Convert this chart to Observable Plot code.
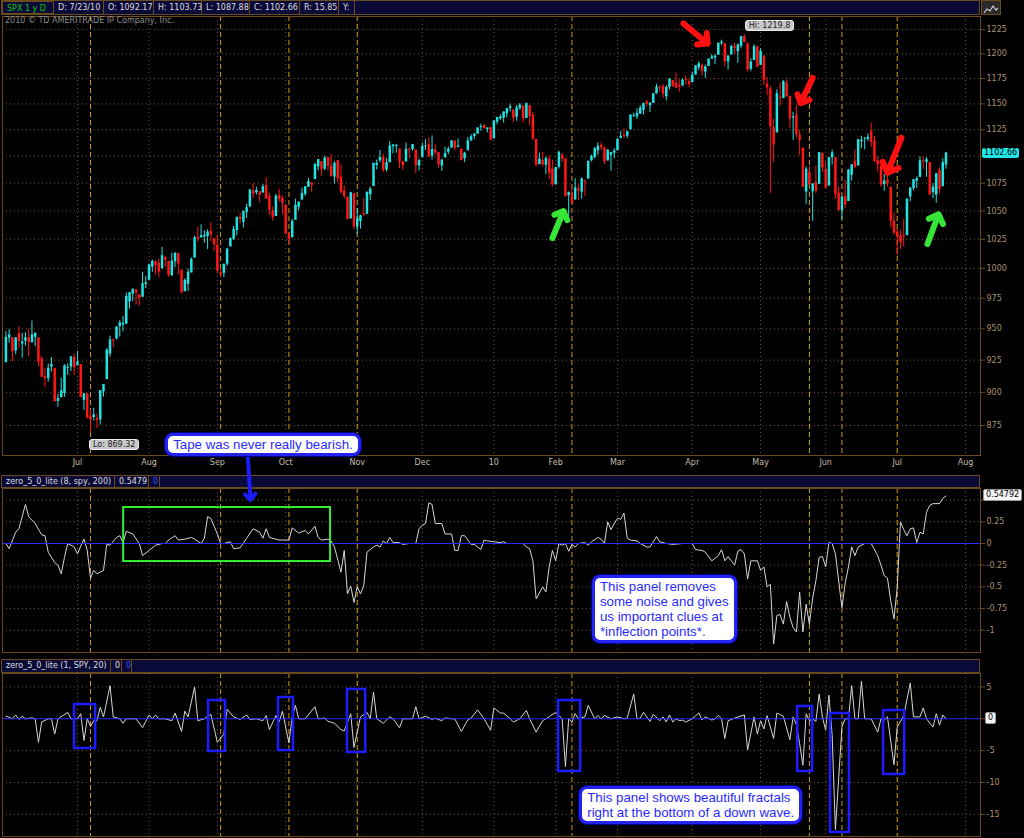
<!DOCTYPE html>
<html><head><meta charset="utf-8">
<script src="https://cdn.jsdelivr.net/npm/d3@7"></script>
<script src="https://cdn.jsdelivr.net/npm/@observablehq/plot@0.6"></script>
<style>
html,body{margin:0;padding:0;background:#000;}
#root{position:relative;width:1024px;height:838px;overflow:hidden;background:#000;font-family:"DejaVu Sans",sans-serif;}
.bar{position:absolute;left:1px;width:977px;background:#0a0a38;border:1px solid #6b4a1c;display:flex;font-size:8px;color:#dedede;white-space:nowrap;overflow:hidden}
.cell{box-sizing:border-box;padding-left:4px;border-right:1px solid #6b4a1c;}
.callout{position:absolute;background:#fff;border:3px solid #2323f2;border-radius:8px;color:#2a2aff;font:13.3px/15px "Liberation Sans",Arial,sans-serif;padding:1px 5px;box-shadow:0 0 0 1px #00008a;white-space:nowrap}
.badge{position:absolute;font-size:8px;line-height:10px;padding:0 2px;border-radius:2px;transform:translateY(-50%);color:#000}
.hl{position:absolute;background:#c8c8c8;color:#1c1c1c;font-size:8px;line-height:9px;padding:0 3px;border-radius:3px;border:1px solid #eee}
</style></head>
<body><div id="root"></div>
<script>
// ---------------- DATA ----------------
const holidays = ["2009-07-03","2009-09-07","2009-11-26","2009-12-25","2010-01-01","2010-01-18","2010-02-15","2010-04-02","2010-05-31","2010-07-05"];
const firstDay = "2009-06-01", calendarEnd = "2010-08-07";

const open = [
923.26,942.87,942.51,932.49,945.67,938.12,940.35,942.73,939.04,943.44,942.45,925.60,911.89,910.86,919.96,918.13,893.46,896.31,899.45,918.84,919.86,927.15,
920.82,921.24,894.27,898.60,881.90,881.28,880.03,879.57,900.77,910.15,930.17,940.56,942.07,951.97,953.40,954.07,972.16,978.63,981.48,977.66,976.01,986.80,
990.22,1001.41,1005.41,1004.06,999.83,1008.89,1005.77,994.00,1005.86,1012.23,998.18,980.62,986.88,996.41,1009.06,1026.59,1026.63,1027.35,1027.81,1031.62,1025.21,
1019.52,996.07,996.12,1003.84,1018.67,1025.36,1032.99,1043.92,1040.15,1049.03,1053.99,1067.87,1066.60,1067.14,1066.35,1072.69,1062.56,1049.48,1045.38,1063.69,1061.02,
1054.91,1029.71,1026.87,1042.02,1053.65,1060.03,1065.28,1071.63,1074.96,1078.68,1090.36,1094.67,1088.22,1098.64,1090.36,1080.96,1095.62,1080.36,1067.54,1061.51,1043.19,1065.41,
1036.18,1040.92,1047.14,1047.30,1064.95,1072.31,1091.86,1096.04,1098.31,1087.59,1094.13,1109.22,1109.44,1106.44,1094.66,1094.86,1105.83,1106.49,1105.47,1091.07,
1098.89,1109.03,1110.59,1100.43,1105.52,1103.04,1091.07,1098.69,1103.96,1107.84,1114.11,1108.61,1106.36,1097.86,1105.31,1114.51,1118.84,1121.08,1127.53,1128.55,1125.53,1126.60,
1116.56,1132.66,1135.71,1136.27,1140.52,1145.96,1143.81,1137.31,1145.68,1147.72,1136.03,1147.95,1138.68,1115.49,1092.40,1095.80,1091.94,1096.93,1087.61,
1073.89,1090.05,1100.67,1097.25,1064.12,1065.51,1060.06,1069.68,1067.10,1075.95,1079.13,1096.14,1099.03,1105.49,1110.00,1107.49,1095.89,1101.24,1103.10,
1105.36,1117.01,1119.36,1119.12,1125.12,1138.40,1137.56,1140.22,1143.96,1151.71,1148.53,1150.83,1159.94,1166.13,1166.68,1157.25,1166.47,1172.70,1170.03,1167.58,1167.71,1173.75,1171.75,
1171.23,1178.71,1186.01,1188.23,1181.75,1187.47,1194.94,1195.94,1198.69,1210.77,1210.17,1192.06,1199.04,1207.16,1202.52,1207.87,1217.07,1209.92,1184.59,1193.30,1206.77,
1188.58,1197.50,1169.24,1164.38,1127.04,1122.27,1156.39,1155.43,1170.04,1157.19,1136.52,1138.78,1119.57,1107.34,1067.26,1084.78,1067.42,1075.51,1074.27,1102.59,
1087.30,1073.01,1098.82,1098.43,1065.84,1050.81,1062.75,1058.77,1082.65,1095.00,1091.21,1114.02,1115.98,1116.16,1122.79,1113.90,1095.57,1090.93,1074.10,1077.50,1071.10,1040.56,
1031.10,1027.65,1028.09,1028.54,1062.92,1070.50,1077.23,1080.65,1095.61,1094.46,1093.85,1066.85,1064.53,1086.67,1072.14,1092.17];

const high = [
947.77,949.38,942.51,942.47,951.69,946.33,946.92,949.77,956.23,946.30,942.45,928.00,918.44,921.93,927.09,918.13,898.69,910.85,921.42,922.00,927.99,930.01,
931.92,921.24,898.72,898.60,886.80,887.86,883.57,901.05,905.84,933.95,943.96,941.89,951.62,956.53,959.83,979.42,979.79,982.49,982.35,977.76,996.68,993.18,
1003.61,1007.12,1006.64,1008.00,1018.00,1010.12,1005.77,1012.78,1013.14,1012.60,998.18,991.20,999.61,1008.92,1027.59,1035.82,1037.75,1032.47,1033.33,1039.47,1025.21,
1028.45,1000.34,1003.43,1016.48,1026.07,1036.34,1044.14,1048.18,1049.74,1056.04,1068.76,1074.77,1071.52,1067.28,1073.81,1080.15,1066.29,1053.47,1065.13,1069.62,1063.40,
1054.91,1030.60,1042.58,1060.55,1058.02,1070.67,1071.51,1079.46,1075.30,1093.17,1096.56,1094.67,1100.17,1098.64,1101.36,1095.21,1095.83,1091.75,1072.48,1063.26,1066.83,1065.41,
1052.18,1046.36,1061.00,1066.65,1071.48,1093.19,1096.42,1105.37,1101.97,1097.79,1113.69,1110.52,1111.10,1106.44,1094.66,1112.38,1107.56,1111.18,1105.47,1097.24,
1112.28,1115.58,1117.28,1119.13,1110.72,1103.04,1097.04,1108.44,1108.50,1114.76,1114.11,1116.21,1106.36,1103.74,1117.68,1120.27,1121.58,1126.48,1130.38,1130.38,1126.42,1127.64,
1133.87,1136.63,1139.19,1142.46,1145.39,1149.74,1143.81,1148.40,1150.41,1147.77,1150.45,1147.95,1141.58,1115.49,1102.97,1103.69,1099.51,1100.22,1096.45,
1089.38,1104.73,1102.72,1097.25,1067.13,1071.20,1079.28,1073.67,1080.04,1077.81,1095.67,1101.03,1108.24,1112.42,1112.29,1108.58,1106.42,1103.50,1107.24,
1116.11,1123.46,1125.64,1123.73,1139.38,1141.05,1145.37,1148.26,1150.24,1153.41,1150.98,1160.28,1169.20,1167.77,1169.20,1167.82,1174.72,1173.04,1180.69,1173.93,1174.85,1177.83,1174.56,
1181.43,1187.73,1191.80,1189.60,1188.55,1194.66,1199.20,1199.04,1210.65,1213.92,1210.17,1197.87,1208.58,1210.99,1210.27,1217.28,1219.80,1211.38,1195.05,1209.36,1207.99,
1205.13,1197.50,1175.95,1167.58,1135.13,1163.85,1170.48,1172.87,1173.57,1157.19,1141.88,1148.66,1124.27,1107.34,1090.16,1089.95,1074.75,1090.75,1103.52,1102.59,
1094.77,1098.56,1105.67,1098.43,1071.36,1063.15,1077.74,1087.85,1092.25,1105.91,1115.59,1118.74,1117.72,1121.01,1131.23,1118.50,1099.64,1090.93,1083.11,1082.60,1071.10,1048.08,
1033.58,1032.95,1042.50,1060.89,1071.25,1078.16,1080.78,1099.46,1099.08,1098.66,1093.85,1074.70,1083.94,1088.96,1097.50,1103.73];

const low = [
923.26,938.46,923.85,929.32,934.13,926.44,936.15,927.97,939.04,935.66,919.65,911.60,903.78,907.94,915.80,893.04,888.86,896.31,896.27,913.03,916.18,912.86,
920.82,896.42,886.36,879.93,869.32,878.45,872.81,875.32,896.50,910.15,927.45,934.65,940.99,943.22,947.75,953.27,965.95,972.29,969.35,968.65,976.01,982.85,
990.22,996.68,994.31,992.49,999.83,1000.99,992.40,993.36,1000.82,994.60,978.51,980.62,980.62,996.39,1009.06,1022.48,1026.21,1021.57,1016.20,1023.13,1014.62,
996.28,991.97,992.25,1001.65,1018.67,1023.97,1028.04,1038.40,1035.00,1043.42,1052.87,1061.20,1064.27,1057.46,1066.35,1060.39,1045.85,1041.17,1045.38,1057.83,1046.47,
1029.45,1019.95,1025.92,1042.02,1050.10,1060.03,1063.00,1071.63,1066.71,1078.68,1086.41,1081.53,1086.48,1086.16,1080.77,1074.31,1075.49,1065.23,1060.62,1042.19,1043.19,1033.38,
1029.38,1033.94,1045.15,1047.30,1059.32,1072.31,1087.40,1093.81,1084.90,1085.33,1094.13,1102.19,1102.70,1088.40,1086.81,1094.86,1097.63,1104.75,1083.74,1086.25,
1098.89,1105.29,1098.74,1096.52,1100.83,1088.61,1085.89,1098.69,1101.34,1107.84,1105.35,1107.96,1095.88,1093.88,1105.31,1114.51,1116.00,1121.08,1123.51,1126.08,1121.94,1114.81,
1116.56,1129.66,1133.95,1131.32,1136.22,1142.02,1131.77,1133.18,1143.80,1131.39,1135.77,1129.25,1114.84,1090.18,1092.40,1089.86,1083.11,1078.46,1071.59,
1073.89,1087.96,1093.97,1062.78,1044.50,1056.51,1060.06,1059.34,1060.59,1062.97,1079.13,1094.72,1097.48,1100.80,1105.38,1092.18,1095.50,1086.02,1097.56,
1105.36,1116.51,1116.58,1116.66,1125.12,1136.77,1134.90,1140.09,1138.99,1146.97,1141.45,1150.35,1159.94,1161.16,1155.33,1152.88,1163.83,1166.01,1165.09,1161.48,1167.71,1168.92,1165.77,
1170.69,1178.71,1182.77,1177.25,1175.12,1187.15,1194.71,1188.82,1198.69,1208.50,1186.77,1183.68,1199.04,1198.85,1190.19,1205.10,1211.07,1181.62,1181.81,1193.30,1186.32,
1188.58,1168.12,1158.15,1065.79,1094.15,1122.27,1147.71,1155.43,1156.14,1126.14,1114.96,1117.20,1100.66,1071.58,1055.90,1072.70,1040.78,1065.59,1074.27,1084.78,
1069.89,1072.03,1091.81,1060.50,1049.86,1042.17,1052.25,1058.77,1077.12,1089.03,1091.21,1107.13,1105.87,1113.93,1108.24,1094.18,1085.31,1071.60,1067.89,1071.45,1035.18,1028.33,
1010.91,1015.93,1018.35,1028.54,1058.24,1068.10,1070.45,1080.65,1087.68,1080.53,1063.32,1061.11,1056.88,1065.25,1072.14,1087.88];

const close = [
942.87,944.74,931.76,942.46,940.09,939.14,942.43,939.15,944.89,946.21,923.72,911.97,910.71,918.37,921.23,893.04,895.10,900.94,920.26,918.90,927.23,919.32,
923.33,896.42,898.72,881.03,879.56,882.68,879.13,901.05,905.84,932.68,940.74,940.38,951.13,954.58,954.07,976.29,979.26,982.18,979.62,975.15,986.75,987.48,
1002.63,1005.65,1002.72,997.08,1010.48,1007.10,994.35,1005.81,1012.73,1004.09,979.73,989.67,996.46,1007.37,1026.13,1025.57,1028.00,1028.12,1030.98,1028.93,1020.62,
998.04,994.75,1003.24,1016.40,1025.39,1033.37,1044.14,1042.73,1049.34,1052.63,1068.76,1065.49,1068.30,1064.66,1071.66,1060.87,1050.78,1044.38,1062.98,1060.61,1057.08,
1029.85,1025.21,1040.46,1054.72,1057.58,1065.48,1071.49,1076.19,1073.19,1092.02,1096.56,1087.68,1097.91,1091.06,1081.40,1092.91,1079.60,1066.95,1063.41,1042.63,1066.11,1036.19,
1042.88,1045.41,1046.50,1066.63,1069.30,1093.08,1093.01,1098.51,1087.24,1093.48,1109.30,1110.32,1109.80,1094.90,1091.38,1106.24,1105.65,1110.63,1091.49,1095.63,
1108.86,1109.24,1099.92,1105.98,1103.25,1091.94,1095.95,1102.35,1106.41,1114.11,1107.93,1109.18,1096.08,1102.47,1114.05,1118.02,1120.59,1126.48,1127.78,1126.20,1126.42,1115.10,
1132.99,1136.52,1137.14,1141.69,1144.98,1146.98,1136.22,1145.68,1148.46,1136.03,1150.23,1138.04,1116.48,1091.76,1096.78,1092.17,1097.50,1084.53,1073.87,
1089.19,1103.32,1097.28,1063.11,1066.19,1056.74,1070.52,1068.13,1078.47,1075.51,1094.87,1099.51,1106.75,1109.17,1108.01,1094.60,1105.24,1102.94,1104.49,
1115.71,1118.31,1118.79,1122.97,1138.70,1138.50,1140.45,1145.61,1150.24,1149.99,1150.51,1159.46,1166.21,1165.83,1159.90,1165.81,1174.17,1167.72,1165.73,1166.59,1173.22,1173.27,1169.43,
1178.10,1187.44,1189.44,1182.45,1186.44,1194.37,1196.48,1197.30,1210.65,1211.67,1192.13,1197.52,1207.17,1205.94,1208.67,1217.28,1212.05,1183.71,1191.36,1206.78,1186.69,
1202.26,1173.60,1165.90,1128.15,1110.88,1159.73,1155.79,1171.67,1157.44,1135.68,1136.94,1120.80,1115.05,1071.59,1087.69,1073.65,1074.03,1067.95,1103.06,1089.41,
1070.71,1098.38,1102.83,1064.88,1050.47,1062.00,1055.69,1086.84,1091.60,1089.63,1115.23,1114.61,1116.04,1117.51,1113.20,1095.31,1092.04,1073.69,1076.76,1074.57,1041.24,1030.71,
1027.37,1022.58,1028.06,1060.27,1070.25,1077.96,1078.75,1095.34,1095.17,1096.48,1064.88,1071.25,1083.48,1069.59,1093.67,1102.66];

const priceTicks = [875,900,925,950,975,1000,1025,1050,1075,1100,1125,1150,1175,1200,1225];

// dates marked with orange dashed verticals
const markerDates = ["2009-07-08","2009-09-02","2009-10-02","2009-11-02","2010-02-08","2010-05-24","2010-06-08","2010-07-01"];

// zero_5_0_lite (8, spy, 200): trading-day index / value
const ind8Day = [0,1,3,4,6,7,9,11,12,13,15,16,17,18,19,21,22,23,24,25,26,27,28,30,31,32,34,35,36,37,39,41,42,44,46,48,49,50,52,53,55,57,58,60,61,62,63,65,66,67,69,70,72,74,76,78,79,80,81,84,86,87,88,90,92,93,95,96,97,99,100,101,103,104,105,106,107,108,109,110,111,113,114,115,116,117,118,119,121,122,124,126,127,128,129,130,131,132,134,135,137,138,139,140,141,143,144,146,147,148,150,152,153,154,159,160,161,162,163,165,166,167,168,169,170,171,172,173,174,175,176,178,179,180,182,183,184,185,186,187,188,189,190,191,192,194,195,197,198,200,201,203,205,208,211,212,214,215,217,219,220,221,222,224,225,226,227,228,229,231,232,233,234,235,236,237,238,239,240,241,242,243,244,245,246,247,248,249,250,251,252,253,254,255,257,258,259,260,261,262,264,266,268,269,270,271,272,273,274,275,276,277,278,279,280,281,282,283,284,285,287,288,289];
const ind8Val = [0,-0.06,0.13,0.17,0.45,0.31,0.23,0.10,0.09,-0.10,-0.22,-0.25,-0.35,-0.16,0,-0.04,-0.12,-0.03,0.05,-0.08,-0.40,-0.31,-0.35,-0.31,-0.01,-0.02,0.07,0.09,0.01,0.14,0.11,0,-0.14,-0.08,-0.02,0,0,0.04,0.09,0.04,0.05,0.07,0.05,0,0.06,0.31,0.29,0.11,0,0,0.02,-0.06,-0.05,0.06,0.17,0.13,0.06,0.17,0.07,0.04,0.04,0.04,0.18,0.12,0.15,0.11,0.20,0.07,0.04,0.05,0.03,-0.04,-0.33,-0.08,-0.58,-0.49,-0.68,-0.50,-0.58,-0.49,-0.10,-0.04,-0.02,-0.04,0.03,0,0.07,0.01,0.01,-0.01,0,0,0.17,0.21,0.23,0.47,0.45,0.23,0.23,0.11,0.11,-0.08,-0.08,0.09,0.09,-0.01,-0.01,-0.07,0.04,0.03,0.02,0.01,0.02,0,0,-0.04,-0.06,-0.20,-0.64,-0.50,-0.56,-0.27,-0.08,-0.20,0,-0.02,0,-0.09,-0.01,-0.04,0,0.01,-0.02,0.02,0.07,0.05,0,0.25,0.16,0.23,0.29,0.28,0.35,0.06,0.04,0.03,0,-0.04,-0.04,0.08,0.02,0,-0.01,0,0,-0.07,-0.08,-0.10,-0.20,-0.14,-0.07,-0.20,-0.15,-0.25,-0.09,-0.07,-0.12,-0.41,-0.20,-0.20,-0.31,-0.27,-0.50,-0.47,-1.16,-0.83,-0.82,-0.93,-0.67,-0.85,-0.97,-1.02,-0.56,-1.02,-0.70,-0.93,-0.63,-0.43,-0.16,-0.15,-0.27,0.01,0,-0.12,-0.74,-0.46,-0.27,-0.04,-0.14,-0.04,0,0,-0.14,-0.25,-0.37,-0.40,-0.66,-0.87,-0.51,0.25,0.16,0.09,0.17,0.18,0.01,0.13,0.11,0.36,0.44,0.46,0.46,0.52,0.54792];
const ind8Ticks = [0.5,0.25,0,-0.25,-0.5,-0.75,-1];

// zero_5_0_lite (1, SPY, 20): trading-day index / value
const ind1Day = [0,2,3,4,5,6,8,9,10,11,13,14,15,16,19,20,22,23,24,25,26,27,28,29,30,32,33,35,36,37,40,42,44,45,46,47,49,51,52,54,55,56,58,59,61,63,65,67,68,70,72,74,75,77,79,80,81,83,84,85,87,88,89,90,92,95,96,98,99,101,103,104,106,107,109,111,112,113,114,116,118,119,121,122,125,126,127,129,131,132,134,135,137,138,140,142,143,145,147,149,150,152,153,155,156,158,160,161,163,165,166,169,171,172,173,174,175,176,178,179,181,182,183,184,186,188,190,191,193,194,195,196,198,199,201,202,203,204,205,206,207,208,209,211,213,214,215,217,218,219,220,221,222,224,227,228,230,231,232,233,234,236,237,239,241,242,243,244,245,246,247,248,249,250,251,252,253,254,255,257,258,259,260,261,262,263,264,266,268,269,270,271,273,274,276,278,279,281,282,283,285,286,287,288,289];
const ind1Val = [0.42,0,0.6,-0.1,0.4,0,0.15,0,-3.7,-0.5,0,0,-2.4,0,1.0,0,0,0.8,-3.4,0,-1.2,-0.3,-0.3,1.8,0.3,5.2,0.3,0,-0.7,0,0,-1.4,0.6,0,0.6,0,0,-0.3,0.9,-2.0,1.2,0.3,5.0,-0.3,0,0.7,-3.7,-2.4,1.5,0.3,-0.1,0.6,-0.1,0,-0.3,0.5,-1.7,0.5,-0.5,1.2,-3.8,0.3,2.1,0,0,1.9,0,0.1,-0.4,-0.7,-1.7,-1.9,0.8,-4.5,0.3,1.0,0,4.2,0,-0.7,0.3,0,-1.4,0,0,1.9,0,0.4,-0.1,0.1,-0.3,0.15,0,0,-2.0,-0.15,0.1,1.4,0,-1.8,1.7,0.9,0.9,0,-0.5,0,1.3,0,-2.1,-0.3,0,1.0,0,-7.5,0,-0.5,0.8,0,0.3,2.1,0,0.5,0,0.5,0,0.3,0,0.1,3.9,0,0.1,1.0,-0.4,0.7,-0.3,0.3,-0.5,0.6,-0.5,0,-0.3,-0.2,-0.5,0,0.9,-0.2,0.3,-0.2,0,0.5,0,-3.1,-0.3,0.1,0.6,-4.9,0.3,-2.4,-0.3,-1.6,0.5,-3.1,0.9,0.4,-3.3,0.3,-0.9,-3.9,-7.3,0.8,-0.3,0,-0.4,3.9,0.3,-1.8,3.7,-2.6,-17.4,-1.3,0,0,5.2,0,0,5.9,0,0,-2.1,0,-0.2,0.3,-7.2,-1.3,0.5,5.6,0.3,0.3,1.7,0,-1.3,0.8,-1.0,0.6,0];
const ind1Ticks = [5,0,-5,-10,-15];

// annotations (data coordinates: trading-day index, price / indicator value)
const redArrows = [
  {d1:208.3,v1:1231.3,d2:215.7,v2:1210.5},
  {d1:248.0,v1:1175.7,d2:244.3,v2:1150.7},
  {d1:275.3,v1:1117.4,d2:271.0,v2:1084.6}];
const greenArrows = [
  {d1:168.0,v1:1026.1,d2:171.4,v2:1049.9},
  {d1:283.3,v1:1020.9,d2:286.7,v2:1047.0}];
const blueArrow = [{d1:74.3,v1:1.05,d2:75.2,v2:0.5}];
const greenBox = [{d1:36.2,d2:99.8,v1:0.415,v2:-0.208}];
const blueBoxes = [
  {d1:21.1,d2:27.6,v1:2.24,v2:-4.66},{d1:62.3,d2:67.5,v1:2.87,v2:-5.13},
  {d1:83.8,d2:88.4,v1:3.34,v2:-4.98},{d1:105.0,d2:110.6,v1:4.6,v2:-5.29},
  {d1:169.9,d2:176.7,v1:2.87,v2:-8.27},{d1:243.4,d2:248.0,v1:1.93,v2:-8.27},
  {d1:253.5,d2:259.3,v1:0.83,v2:-17.85},{d1:269.8,d2:276.3,v1:1.3,v2:-8.74}];
const callouts = [
  {panel:1,d:49.1,v:869.1,lines:["Tape was never really bearish."]},
  {panel:2,d:180.3,v:-0.369,lines:["This panel removes","some noise and gives","us important clues at","*inflection points*."]},
  {panel:3,d:176.4,v:-10.63,lines:["This panel shows beautiful fractals","right at the bottom of a down wave."]}];

// ---------------- BUILD ----------------
const fmtDay = d3.utcFormat("%Y-%m-%d");
const tradingDays = d3.utcDay.range(new Date(firstDay), new Date(calendarEnd))
  .filter(d => d.getUTCDay() % 6 !== 0 && !holidays.includes(fmtDay(d)));
const N = close.length;
const last = N - 1;
const candles = d3.range(N).map(i => ({i, o: open[i], h: high[i], l: low[i], c: close[i]}));
const monthStarts = d3.range(1, tradingDays.length).filter(i => tradingDays[i].getUTCMonth() !== tradingDays[i-1].getUTCMonth());
const monthLabel = i => tradingDays[i].getUTCMonth() === 0 ? d3.utcFormat("%y")(tradingDays[i]) : d3.utcFormat("%b")(tradingDays[i]);
const markers = markerDates.map(s => tradingDays.findIndex(d => fmtDay(d) === s));
const i8 = ind8Val[ind8Val.length - 1], i1 = ind1Val[ind1Val.length - 1];

// tick labels that sit under the current-value badges are hidden (as in the platform)
const priceLabel = t => Math.abs(Math.log(t / close[last])) < 0.006 ? "" : String(t);
const ind8Label = t => Math.abs(t - i8) < 0.08 ? "" : String(t);
const ind1Label = t => Math.abs(t - i1) < 1 ? "" : String(t);

const UP = "#20e4e4", DOWN = "#ff1616", GRID = "#6e5426", ORANGE = "#cf9a1c", BORDER = "#6b4a1c",
      LABEL = "#a99070", MONTH = "#c4bcac", LINE = "#d6d6d6", BLUE = "#2a2aff";
const style = {background: "transparent", fontFamily: "DejaVu Sans, sans-serif", fontSize: "8px", overflow: "visible"};
const common = {width: 1024, marginLeft: 2, marginRight: 44, style, color: {type: "identity"}};
const xScale = {domain: [-1.05, 299.6]};
const gridMarks = () => [
  Plot.ruleX(monthStarts, {stroke: GRID, strokeDasharray: "1,3"}),
  Plot.ruleX(markers, {stroke: ORANGE, strokeDasharray: "5,3"})];

const p1 = Plot.plot({
  ...common, height: 460, marginTop: 1, marginBottom: 20,
  x: xScale,
  y: {type: "log", domain: [853.04, 1238.6]},
  marks: [
    Plot.ruleY(priceTicks, {stroke: GRID, strokeDasharray: "1,3"}),
    ...gridMarks(),
    Plot.ruleX(candles, {x: "i", y1: "l", y2: "h", stroke: d => d.c >= d.o ? UP : DOWN, strokeWidth: 1}),
    Plot.ruleX(candles, {x: "i", y1: d => Math.min(d.o, d.c) - 0.3, y2: d => Math.max(d.o, d.c) + 0.3,
      stroke: d => d.c >= d.o ? UP : DOWN, strokeWidth: 2.5}),
    Plot.axisY({anchor: "right", ticks: priceTicks, tickFormat: priceLabel, tickSize: 4, tickPadding: 2, stroke: BORDER, fill: LABEL, label: null}),
    Plot.axisX({ticks: monthStarts, tickFormat: monthLabel, tickSize: 0, tickPadding: 4, fill: MONTH, label: null}),
    Plot.frame({stroke: BORDER}),
    Plot.arrow(redArrows, {x1: "d1", y1: "v1", x2: "d2", y2: "v2", stroke: "#ff1010", strokeWidth: 6, headLength: 3, headAngle: 90, strokeLinecap: "round"}),
    Plot.arrow(greenArrows, {x1: "d1", y1: "v1", x2: "d2", y2: "v2", stroke: "#36e636", strokeWidth: 6, headLength: 3, headAngle: 90, strokeLinecap: "round"})
  ]
});

const p2 = Plot.plot({
  ...common, height: 203, marginTop: 36, marginBottom: 3,
  x: {...xScale, axis: null},
  y: {domain: [-1.2572, 0.6344]},
  marks: [
    Plot.ruleY(ind8Ticks.filter(t => t !== 0), {stroke: GRID, strokeDasharray: "1,3"}),
    ...gridMarks(),
    Plot.line(ind8Day, {x: d => d, y: (d, i) => ind8Val[i], stroke: LINE, strokeWidth: 1}),
    Plot.ruleY([0], {stroke: BLUE}),
    Plot.axisY({anchor: "right", ticks: ind8Ticks, tickFormat: ind8Label, tickSize: 4, tickPadding: 2, stroke: BORDER, fill: LABEL, label: null}),
    Plot.frame({stroke: BORDER}),
    Plot.rect(greenBox, {x1: "d1", x2: "d2", y1: "v1", y2: "v2", fill: "none", stroke: "#33ee33", strokeWidth: 2}),
    Plot.arrow(blueArrow, {x1: "d1", y1: "v1", x2: "d2", y2: "v2", stroke: "#1c1cff", strokeWidth: 4, headLength: 3, headAngle: 80})
  ]
});

const p3 = Plot.plot({
  ...common, height: 165, marginTop: 0, marginBottom: 2,
  x: {...xScale, axis: null},
  y: {domain: [-18.48, 7.11]},
  marks: [
    Plot.ruleY(ind1Ticks.filter(t => t !== 0), {stroke: GRID, strokeDasharray: "1,3"}),
    ...gridMarks(),
    Plot.line(ind1Day, {x: d => d, y: (d, i) => ind1Val[i], stroke: LINE, strokeWidth: 1}),
    Plot.ruleY([0], {stroke: BLUE}),
    Plot.axisY({anchor: "right", ticks: ind1Ticks, tickFormat: ind1Label, tickSize: 4, tickPadding: 2, stroke: BORDER, fill: LABEL, label: null}),
    Plot.frame({stroke: BORDER}),
    Plot.rect(blueBoxes, {x1: "d1", x2: "d2", y1: "v1", y2: "v2", fill: "none", stroke: "#1c1cff", strokeWidth: 2.5})
  ]
});

// ---------------- LAYOUT ----------------
const root = document.getElementById("root");
const tops = {1: 15, 2: 452, 3: 673};
const plots = {1: p1, 2: p2, 3: p3};
function place(el, top) {
  const w = document.createElement("div");
  w.style.cssText = `position:absolute;left:0;top:${top}px;`;
  w.appendChild(el); root.appendChild(w);
}
function bar(top, height, cells) {
  const b = document.createElement("div");
  b.className = "bar";
  b.style.top = top + "px"; b.style.height = height + "px"; b.style.lineHeight = height + "px";
  for (const [text, width, color, extra] of cells) {
    const c = document.createElement("div");
    c.className = "cell"; c.textContent = text; c.style.width = width + "px";
    if (color) c.style.color = color;
    if (extra) c.style.cssText += extra;
    b.appendChild(c);
  }
  root.appendChild(b);
}
place(p1, tops[1]);
bar(0, 13, [
  ["SPX 1 y D", 52, "#10c810", "border:1px solid #6b4a1c;"],
  ["D: " + d3.utcFormat("%-m/%-d/%y")(tradingDays[last]), 50],
  ["O: " + open[last].toFixed(2), 50], ["H: " + high[last].toFixed(2), 48],
  ["L: " + low[last].toFixed(2), 48], ["C: " + close[last].toFixed(2), 50],
  ["R: " + (high[last] - low[last]).toFixed(2), 39], ["Y:", 16]]);
const icon = document.createElement("div");
icon.style.cssText = "position:absolute;left:981px;top:0;width:18px;height:13px;border:1px solid #6b4a1c;background:#2a2a2a";
icon.innerHTML = '<svg width="18" height="13"><polyline points="2,10 5,6 8,8 11,3 14,7 16,5" fill="none" stroke="#cfcfcf" stroke-width="1.2"/></svg>';
root.appendChild(icon);
const copy = document.createElement("div");
copy.textContent = "2010 \u00a9 TD AMERITRADE IP Company, Inc.";
copy.style.cssText = "position:absolute;left:5px;top:16px;font-size:8px;color:#8e8e8e";
root.appendChild(copy);

bar(475, 11, [["zero_5_0_lite (8, spy, 200)", 113], [i8.toFixed(4), 34], ["0", 11, "#3050ff"]]);
place(p2, tops[2]);
bar(659, 12, [["zero_5_0_lite (1, SPY, 20)", 109], [String(i1), 11], ["0", 10, "#3050ff"]]);
place(p3, tops[3]);

function badge(panel, value, text, bg, left, border) {
  const b = document.createElement("div");
  b.className = "badge"; b.textContent = text;
  b.style.left = left + "px";
  b.style.top = (tops[panel] + plots[panel].scale("y").apply(value)) + "px";
  b.style.background = bg;
  if (border) b.style.border = border;
  root.appendChild(b);
}
badge(1, close[last], close[last].toFixed(2), "#22e6e6", 982);
badge(2, i8, String(i8), "#f4f4f4", 983, "1px solid #999");
badge(3, i1, String(i1), "#f4f4f4", 985, "1px solid #999");

const iHi = d3.maxIndex(high), iLo = d3.minIndex(low);
const xs = p1.scale("x"), ys = p1.scale("y");
const hi = document.createElement("div");
hi.className = "hl"; hi.textContent = "Hi: " + (+high[iHi].toFixed(2));
hi.style.left = (xs.apply(iHi) + 1) + "px";
hi.style.top = (tops[1] + ys.apply(high[iHi]) - 14) + "px";
root.appendChild(hi);
const lo = document.createElement("div");
lo.className = "hl"; lo.textContent = "Lo: " + (+low[iLo].toFixed(2));
lo.style.left = (xs.apply(iLo) - 1) + "px";
lo.style.top = (tops[1] + ys.apply(low[iLo]) + 6) + "px";
root.appendChild(lo);

for (const c of callouts) {
  const p = plots[c.panel];
  const el = document.createElement("div");
  el.className = "callout";
  el.innerHTML = c.lines.map(s => s.replace(/&/g, "&amp;").replace(/</g, "&lt;")).join("<br>");
  el.style.left = p.scale("x").apply(c.d) + "px";
  el.style.top = (tops[c.panel] + p.scale("y").apply(c.v)) + "px";
  root.appendChild(el);
}
</script></body></html>
